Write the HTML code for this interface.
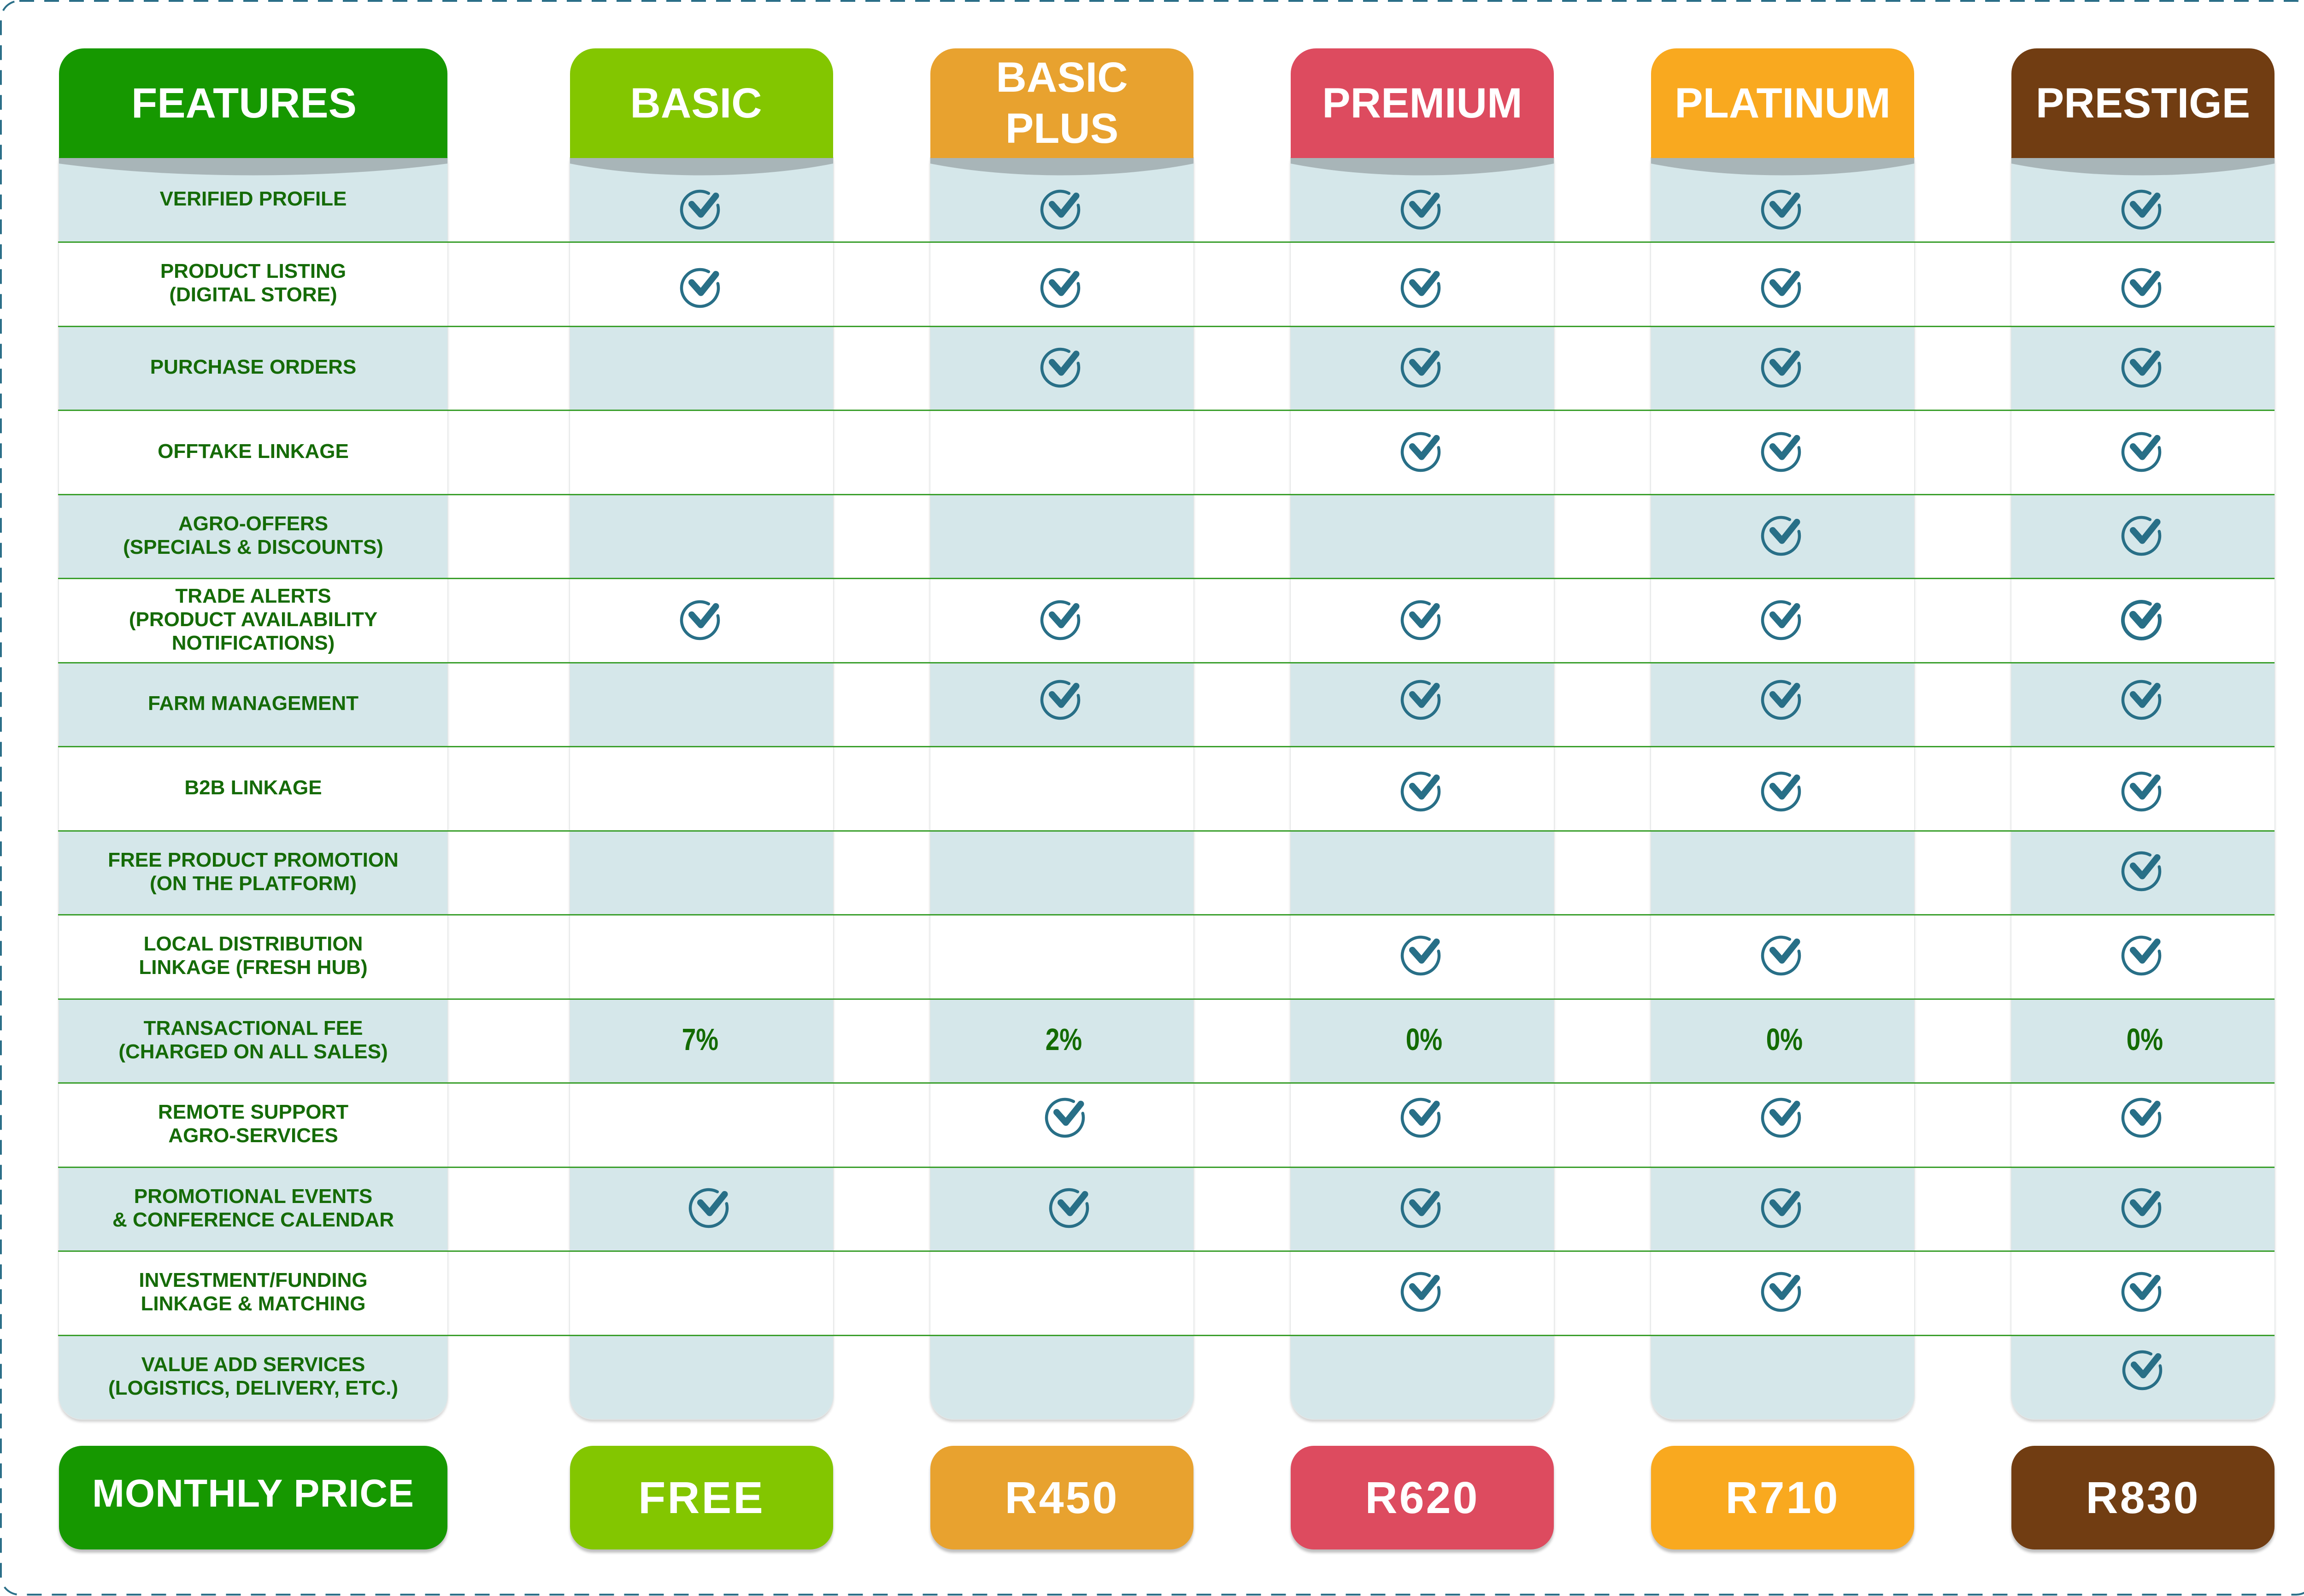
<!DOCTYPE html>
<html>
<head>
<meta charset="utf-8">
<style>
html,body{margin:0;padding:0;background:#fff;}
body{width:5025px;height:3464px;position:relative;overflow:hidden;font-family:"Liberation Sans",Arial,sans-serif;}
.hd{position:absolute;top:105px;height:238px;border-radius:55px 55px 0 0;color:#fff;font-weight:bold;font-size:92px;display:flex;align-items:center;justify-content:center;text-align:center;line-height:111px;}
.bd{position:absolute;top:343px;height:2737px;border-radius:0 0 50px 50px;overflow:hidden;
background:repeating-linear-gradient(to bottom,#d5e7ea 0px,#d5e7ea 182.5px,#ffffff 182.5px,#ffffff 365px);
box-shadow:0 0 0 1.5px #e3e6e6,0 6px 6px rgba(0,0,0,0.18);}
.bd svg{position:absolute;left:0;top:0;}
.ln{position:absolute;left:126px;width:4810px;height:3px;background:#3a9f2c;}
.ft{position:absolute;left:128px;width:843px;height:182.5px;display:flex;align-items:center;justify-content:center;text-align:center;color:#156b07;font-weight:bold;font-size:44px;line-height:51px;box-sizing:border-box;padding-bottom:5px;}
.pc{position:absolute;top:2168px;width:200px;height:182.5px;display:flex;align-items:center;justify-content:center;color:#136b00;font-weight:bold;font-size:67px;padding-bottom:6px;box-sizing:border-box;}
.pc span{display:inline-block;transform:scaleX(0.82);}
.pr{position:absolute;top:3138px;height:225px;border-radius:50px;color:#fff;font-weight:bold;display:flex;align-items:center;justify-content:center;box-shadow:0 7px 6px rgba(0,0,0,0.25);}
.ck{position:absolute;width:100px;height:100px;}
.ck .c{fill:none;stroke:#286f87;stroke-width:6.5;stroke-linecap:round;}
.ck .v{fill:none;stroke:#286f87;stroke-width:14;stroke-linecap:round;stroke-linejoin:round;}
</style>
</head>
<body>

<!-- dashed outer border -->
<svg style="position:absolute;left:0;top:0" width="5025" height="3464">
<rect x="2" y="2" width="5021" height="3459" rx="40" ry="40" fill="none" stroke="#2b6f88" stroke-width="4" stroke-dasharray="32 22"/>
</svg>

<!-- column bodies -->
<div class="bd" style="left:128px;width:843px;"><svg width="843" height="50"><path d="M0,0H843V12C590,46 253,46 0,12Z" fill="#a8b5b8"/></svg></div>
<div class="bd" style="left:1237px;width:571px;"><svg width="571" height="50"><path d="M0,0H571V12C400,46 171,46 0,12Z" fill="#a8b5b8"/></svg></div>
<div class="bd" style="left:2019px;width:571px;"><svg width="571" height="50"><path d="M0,0H571V12C400,46 171,46 0,12Z" fill="#a8b5b8"/></svg></div>
<div class="bd" style="left:2801px;width:571px;"><svg width="571" height="50"><path d="M0,0H571V12C400,46 171,46 0,12Z" fill="#a8b5b8"/></svg></div>
<div class="bd" style="left:3583px;width:571px;"><svg width="571" height="50"><path d="M0,0H571V12C400,46 171,46 0,12Z" fill="#a8b5b8"/></svg></div>
<div class="bd" style="left:4365px;width:571px;"><svg width="571" height="50"><path d="M0,0H571V12C400,46 171,46 0,12Z" fill="#a8b5b8"/></svg></div>

<!-- headers -->
<div class="hd" style="left:128px;width:843px;background:#169800;"><span style="position:relative;left:-20px">FEATURES</span></div>
<div class="hd" style="left:1237px;width:571px;background:#83c600;"><span style="position:relative;left:-12px">BASIC</span></div>
<div class="hd" style="left:2019px;width:571px;background:#e8a22f;">BASIC<br>PLUS</div>
<div class="hd" style="left:2801px;width:571px;background:#dd4b5f;">PREMIUM</div>
<div class="hd" style="left:3583px;width:571px;background:#f9a91f;">PLATINUM</div>
<div class="hd" style="left:4365px;width:571px;background:#713d12;">PRESTIGE</div>

<!-- row lines -->
<div class="ln" style="top:524px"></div>
<div class="ln" style="top:706.5px"></div>
<div class="ln" style="top:889px"></div>
<div class="ln" style="top:1071.5px"></div>
<div class="ln" style="top:1254px"></div>
<div class="ln" style="top:1436.5px"></div>
<div class="ln" style="top:1619px"></div>
<div class="ln" style="top:1801.5px"></div>
<div class="ln" style="top:1984px"></div>
<div class="ln" style="top:2166.5px"></div>
<div class="ln" style="top:2349px"></div>
<div class="ln" style="top:2531.5px"></div>
<div class="ln" style="top:2714px"></div>
<div class="ln" style="top:2896.5px"></div>

<!-- feature texts -->
<div class="ft" style="top:343px;">VERIFIED PROFILE</div>
<div class="ft" style="top:525.5px;">PRODUCT LISTING<br>(DIGITAL STORE)</div>
<div class="ft" style="top:708px;">PURCHASE ORDERS</div>
<div class="ft" style="top:890.5px;">OFFTAKE LINKAGE</div>
<div class="ft" style="top:1073px;">AGRO-OFFERS<br>(SPECIALS &amp; DISCOUNTS)</div>
<div class="ft" style="top:1255.5px;">TRADE ALERTS<br>(PRODUCT AVAILABILITY<br>NOTIFICATIONS)</div>
<div class="ft" style="top:1438px;">FARM MANAGEMENT</div>
<div class="ft" style="top:1620.5px;">B2B LINKAGE</div>
<div class="ft" style="top:1803px;">FREE PRODUCT PROMOTION<br>(ON THE PLATFORM)</div>
<div class="ft" style="top:1985.5px;">LOCAL DISTRIBUTION<br>LINKAGE (FRESH HUB)</div>
<div class="ft" style="top:2168px;">TRANSACTIONAL FEE<br>(CHARGED ON ALL SALES)</div>
<div class="ft" style="top:2350.5px;">REMOTE SUPPORT<br>AGRO-SERVICES</div>
<div class="ft" style="top:2533px;">PROMOTIONAL EVENTS<br>&amp; CONFERENCE CALENDAR</div>
<div class="ft" style="top:2715.5px;">INVESTMENT/FUNDING<br>LINKAGE &amp; MATCHING</div>
<div class="ft" style="top:2898px;">VALUE ADD SERVICES<br>(LOGISTICS, DELIVERY, ETC.)</div>

<!-- percentages -->
<div class="pc" style="left:1419px;"><span>7%</span></div>
<div class="pc" style="left:2208px;"><span>2%</span></div>
<div class="pc" style="left:2990px;"><span>0%</span></div>
<div class="pc" style="left:3772px;"><span>0%</span></div>
<div class="pc" style="left:4554px;"><span>0%</span></div>

<!-- checkmarks -->
<!-- row 1 -->
<svg class="ck" style="left:1469px;top:405px" viewBox="-50 -50 100 100"><path class="c" d="M38.8,-9.7A40,40 0 1 1 18.8,-35.3"/><path class="v" d="M-18,-12L2,10.5L34.5,-30"/></svg>
<svg class="ck" style="left:2251px;top:405px" viewBox="-50 -50 100 100"><path class="c" d="M38.8,-9.7A40,40 0 1 1 18.8,-35.3"/><path class="v" d="M-18,-12L2,10.5L34.5,-30"/></svg>
<svg class="ck" style="left:3033px;top:405px" viewBox="-50 -50 100 100"><path class="c" d="M38.8,-9.7A40,40 0 1 1 18.8,-35.3"/><path class="v" d="M-18,-12L2,10.5L34.5,-30"/></svg>
<svg class="ck" style="left:3815px;top:405px" viewBox="-50 -50 100 100"><path class="c" d="M38.8,-9.7A40,40 0 1 1 18.8,-35.3"/><path class="v" d="M-18,-12L2,10.5L34.5,-30"/></svg>
<svg class="ck" style="left:4597px;top:405px" viewBox="-50 -50 100 100"><path class="c" d="M38.8,-9.7A40,40 0 1 1 18.8,-35.3"/><path class="v" d="M-18,-12L2,10.5L34.5,-30"/></svg>
<!-- row 2 -->
<svg class="ck" style="left:1469px;top:575px" viewBox="-50 -50 100 100"><path class="c" d="M38.8,-9.7A40,40 0 1 1 18.8,-35.3"/><path class="v" d="M-18,-12L2,10.5L34.5,-30"/></svg>
<svg class="ck" style="left:2251px;top:575px" viewBox="-50 -50 100 100"><path class="c" d="M38.8,-9.7A40,40 0 1 1 18.8,-35.3"/><path class="v" d="M-18,-12L2,10.5L34.5,-30"/></svg>
<svg class="ck" style="left:3033px;top:575px" viewBox="-50 -50 100 100"><path class="c" d="M38.8,-9.7A40,40 0 1 1 18.8,-35.3"/><path class="v" d="M-18,-12L2,10.5L34.5,-30"/></svg>
<svg class="ck" style="left:3815px;top:575px" viewBox="-50 -50 100 100"><path class="c" d="M38.8,-9.7A40,40 0 1 1 18.8,-35.3"/><path class="v" d="M-18,-12L2,10.5L34.5,-30"/></svg>
<svg class="ck" style="left:4597px;top:575px" viewBox="-50 -50 100 100"><path class="c" d="M38.8,-9.7A40,40 0 1 1 18.8,-35.3"/><path class="v" d="M-18,-12L2,10.5L34.5,-30"/></svg>
<!-- row 3 -->
<svg class="ck" style="left:2251px;top:748px" viewBox="-50 -50 100 100"><path class="c" d="M38.8,-9.7A40,40 0 1 1 18.8,-35.3"/><path class="v" d="M-18,-12L2,10.5L34.5,-30"/></svg>
<svg class="ck" style="left:3033px;top:748px" viewBox="-50 -50 100 100"><path class="c" d="M38.8,-9.7A40,40 0 1 1 18.8,-35.3"/><path class="v" d="M-18,-12L2,10.5L34.5,-30"/></svg>
<svg class="ck" style="left:3815px;top:748px" viewBox="-50 -50 100 100"><path class="c" d="M38.8,-9.7A40,40 0 1 1 18.8,-35.3"/><path class="v" d="M-18,-12L2,10.5L34.5,-30"/></svg>
<svg class="ck" style="left:4597px;top:748px" viewBox="-50 -50 100 100"><path class="c" d="M38.8,-9.7A40,40 0 1 1 18.8,-35.3"/><path class="v" d="M-18,-12L2,10.5L34.5,-30"/></svg>
<!-- row 4 -->
<svg class="ck" style="left:3033px;top:931px" viewBox="-50 -50 100 100"><path class="c" d="M38.8,-9.7A40,40 0 1 1 18.8,-35.3"/><path class="v" d="M-18,-12L2,10.5L34.5,-30"/></svg>
<svg class="ck" style="left:3815px;top:931px" viewBox="-50 -50 100 100"><path class="c" d="M38.8,-9.7A40,40 0 1 1 18.8,-35.3"/><path class="v" d="M-18,-12L2,10.5L34.5,-30"/></svg>
<svg class="ck" style="left:4597px;top:931px" viewBox="-50 -50 100 100"><path class="c" d="M38.8,-9.7A40,40 0 1 1 18.8,-35.3"/><path class="v" d="M-18,-12L2,10.5L34.5,-30"/></svg>
<!-- row 5 -->
<svg class="ck" style="left:3815px;top:1113px" viewBox="-50 -50 100 100"><path class="c" d="M38.8,-9.7A40,40 0 1 1 18.8,-35.3"/><path class="v" d="M-18,-12L2,10.5L34.5,-30"/></svg>
<svg class="ck" style="left:4597px;top:1113px" viewBox="-50 -50 100 100"><path class="c" d="M38.8,-9.7A40,40 0 1 1 18.8,-35.3"/><path class="v" d="M-18,-12L2,10.5L34.5,-30"/></svg>
<!-- row 6 -->
<svg class="ck" style="left:1469px;top:1296px" viewBox="-50 -50 100 100"><path class="c" d="M38.8,-9.7A40,40 0 1 1 18.8,-35.3"/><path class="v" d="M-18,-12L2,10.5L34.5,-30"/></svg>
<svg class="ck" style="left:2251px;top:1296px" viewBox="-50 -50 100 100"><path class="c" d="M38.8,-9.7A40,40 0 1 1 18.8,-35.3"/><path class="v" d="M-18,-12L2,10.5L34.5,-30"/></svg>
<svg class="ck" style="left:3033px;top:1296px" viewBox="-50 -50 100 100"><path class="c" d="M38.8,-9.7A40,40 0 1 1 18.8,-35.3"/><path class="v" d="M-18,-12L2,10.5L34.5,-30"/></svg>
<svg class="ck" style="left:3815px;top:1296px" viewBox="-50 -50 100 100"><path class="c" d="M38.8,-9.7A40,40 0 1 1 18.8,-35.3"/><path class="v" d="M-18,-12L2,10.5L34.5,-30"/></svg>
<svg class="ck" style="left:4597px;top:1296px" viewBox="-50 -50 100 100"><path class="c" d="M38.8,-9.7A40,40 0 1 1 18.8,-35.3" style="stroke-width:8"/><path class="v" d="M-18,-12L2,10.5L34.5,-30" style="stroke-width:16"/></svg>
<!-- row 7 -->
<svg class="ck" style="left:2251px;top:1469px" viewBox="-50 -50 100 100"><path class="c" d="M38.8,-9.7A40,40 0 1 1 18.8,-35.3"/><path class="v" d="M-18,-12L2,10.5L34.5,-30"/></svg>
<svg class="ck" style="left:3033px;top:1469px" viewBox="-50 -50 100 100"><path class="c" d="M38.8,-9.7A40,40 0 1 1 18.8,-35.3"/><path class="v" d="M-18,-12L2,10.5L34.5,-30"/></svg>
<svg class="ck" style="left:3815px;top:1469px" viewBox="-50 -50 100 100"><path class="c" d="M38.8,-9.7A40,40 0 1 1 18.8,-35.3"/><path class="v" d="M-18,-12L2,10.5L34.5,-30"/></svg>
<svg class="ck" style="left:4597px;top:1469px" viewBox="-50 -50 100 100"><path class="c" d="M38.8,-9.7A40,40 0 1 1 18.8,-35.3"/><path class="v" d="M-18,-12L2,10.5L34.5,-30"/></svg>
<!-- row 8 -->
<svg class="ck" style="left:3033px;top:1668px" viewBox="-50 -50 100 100"><path class="c" d="M38.8,-9.7A40,40 0 1 1 18.8,-35.3"/><path class="v" d="M-18,-12L2,10.5L34.5,-30"/></svg>
<svg class="ck" style="left:3815px;top:1668px" viewBox="-50 -50 100 100"><path class="c" d="M38.8,-9.7A40,40 0 1 1 18.8,-35.3"/><path class="v" d="M-18,-12L2,10.5L34.5,-30"/></svg>
<svg class="ck" style="left:4597px;top:1668px" viewBox="-50 -50 100 100"><path class="c" d="M38.8,-9.7A40,40 0 1 1 18.8,-35.3"/><path class="v" d="M-18,-12L2,10.5L34.5,-30"/></svg>
<!-- row 9 -->
<svg class="ck" style="left:4597px;top:1841px" viewBox="-50 -50 100 100"><path class="c" d="M38.8,-9.7A40,40 0 1 1 18.8,-35.3"/><path class="v" d="M-18,-12L2,10.5L34.5,-30"/></svg>
<!-- row 10 -->
<svg class="ck" style="left:3033px;top:2024px" viewBox="-50 -50 100 100"><path class="c" d="M38.8,-9.7A40,40 0 1 1 18.8,-35.3"/><path class="v" d="M-18,-12L2,10.5L34.5,-30"/></svg>
<svg class="ck" style="left:3815px;top:2024px" viewBox="-50 -50 100 100"><path class="c" d="M38.8,-9.7A40,40 0 1 1 18.8,-35.3"/><path class="v" d="M-18,-12L2,10.5L34.5,-30"/></svg>
<svg class="ck" style="left:4597px;top:2024px" viewBox="-50 -50 100 100"><path class="c" d="M38.8,-9.7A40,40 0 1 1 18.8,-35.3"/><path class="v" d="M-18,-12L2,10.5L34.5,-30"/></svg>
<!-- row 12 -->
<svg class="ck" style="left:2261px;top:2376px" viewBox="-50 -50 100 100"><path class="c" d="M38.8,-9.7A40,40 0 1 1 18.8,-35.3"/><path class="v" d="M-18,-12L2,10.5L34.5,-30"/></svg>
<svg class="ck" style="left:3033px;top:2376px" viewBox="-50 -50 100 100"><path class="c" d="M38.8,-9.7A40,40 0 1 1 18.8,-35.3"/><path class="v" d="M-18,-12L2,10.5L34.5,-30"/></svg>
<svg class="ck" style="left:3815px;top:2376px" viewBox="-50 -50 100 100"><path class="c" d="M38.8,-9.7A40,40 0 1 1 18.8,-35.3"/><path class="v" d="M-18,-12L2,10.5L34.5,-30"/></svg>
<svg class="ck" style="left:4597px;top:2376px" viewBox="-50 -50 100 100"><path class="c" d="M38.8,-9.7A40,40 0 1 1 18.8,-35.3"/><path class="v" d="M-18,-12L2,10.5L34.5,-30"/></svg>
<!-- row 13 -->
<svg class="ck" style="left:1488px;top:2572px" viewBox="-50 -50 100 100"><path class="c" d="M38.8,-9.7A40,40 0 1 1 18.8,-35.3"/><path class="v" d="M-18,-12L2,10.5L34.5,-30"/></svg>
<svg class="ck" style="left:2270px;top:2572px" viewBox="-50 -50 100 100"><path class="c" d="M38.8,-9.7A40,40 0 1 1 18.8,-35.3"/><path class="v" d="M-18,-12L2,10.5L34.5,-30"/></svg>
<svg class="ck" style="left:3033px;top:2572px" viewBox="-50 -50 100 100"><path class="c" d="M38.8,-9.7A40,40 0 1 1 18.8,-35.3"/><path class="v" d="M-18,-12L2,10.5L34.5,-30"/></svg>
<svg class="ck" style="left:3815px;top:2572px" viewBox="-50 -50 100 100"><path class="c" d="M38.8,-9.7A40,40 0 1 1 18.8,-35.3"/><path class="v" d="M-18,-12L2,10.5L34.5,-30"/></svg>
<svg class="ck" style="left:4597px;top:2572px" viewBox="-50 -50 100 100"><path class="c" d="M38.8,-9.7A40,40 0 1 1 18.8,-35.3"/><path class="v" d="M-18,-12L2,10.5L34.5,-30"/></svg>
<!-- row 14 -->
<svg class="ck" style="left:3033px;top:2754px" viewBox="-50 -50 100 100"><path class="c" d="M38.8,-9.7A40,40 0 1 1 18.8,-35.3"/><path class="v" d="M-18,-12L2,10.5L34.5,-30"/></svg>
<svg class="ck" style="left:3815px;top:2754px" viewBox="-50 -50 100 100"><path class="c" d="M38.8,-9.7A40,40 0 1 1 18.8,-35.3"/><path class="v" d="M-18,-12L2,10.5L34.5,-30"/></svg>
<svg class="ck" style="left:4597px;top:2754px" viewBox="-50 -50 100 100"><path class="c" d="M38.8,-9.7A40,40 0 1 1 18.8,-35.3"/><path class="v" d="M-18,-12L2,10.5L34.5,-30"/></svg>
<!-- row 15 -->
<svg class="ck" style="left:4599px;top:2924px" viewBox="-50 -50 100 100"><path class="c" d="M38.8,-9.7A40,40 0 1 1 18.8,-35.3"/><path class="v" d="M-18,-12L2,10.5L34.5,-30"/></svg>

<!-- price boxes -->
<div class="pr" style="left:128px;width:843px;background:#169800;font-size:84px;letter-spacing:1px;"><span style="position:relative;top:-9px">MONTHLY PRICE</span></div>
<div class="pr" style="left:1237px;width:571px;background:#83c600;font-size:97px;letter-spacing:4px;">FREE</div>
<div class="pr" style="left:2019px;width:571px;background:#e8a22f;font-size:97px;letter-spacing:4px;">R450</div>
<div class="pr" style="left:2801px;width:571px;background:#dd4b5f;font-size:97px;letter-spacing:4px;">R620</div>
<div class="pr" style="left:3583px;width:571px;background:#f9a91f;font-size:97px;letter-spacing:4px;">R710</div>
<div class="pr" style="left:4365px;width:571px;background:#713d12;font-size:97px;letter-spacing:4px;">R830</div>

</body>
</html>
